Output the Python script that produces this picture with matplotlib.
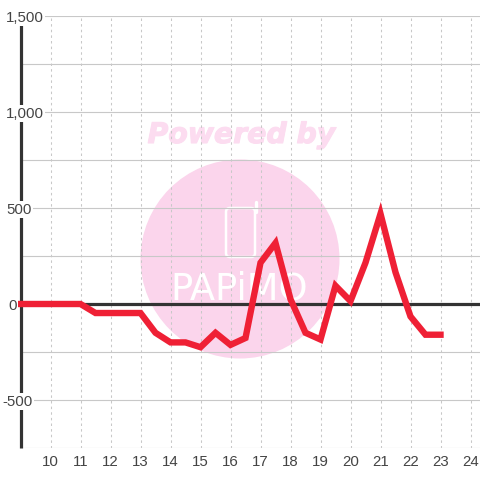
import matplotlib.pyplot as plt
import matplotlib.patheffects as pe
from matplotlib.patches import Circle, FancyBboxPatch

hours = [9, 9.5, 10, 10.5, 11, 11.5, 12, 12.5, 13, 13.5, 14, 14.5, 15, 15.5, 16, 16.5,
         17, 17.5, 18, 18.5, 19, 19.5, 20, 20.5, 21, 21.5, 22, 22.5, 23]
values = [0, 0, 0, 0, 0, -47, -47, -47, -47, -150, -200, -200, -225, -150, -213, -177,
          215, 318, 25, -150, -185, 95, 15, 215, 470, 165, -65, -160, -160]
x_ticks = list(range(10, 25))
y_major = [-500, 0, 500, 1000, 1500]
y_labels = ["-500", "0", "500", "1,000", "1,500"]
y_minor = [-750, -250, 250, 750, 1250]

W = 480.0
fig = plt.figure(figsize=(4.8, 4.8), dpi=100)

# watermark sits behind the chart, in pixel coords
bg = fig.add_axes([0, 0, 1, 1], zorder=0)
bg.set_xlim(0, W)
bg.set_ylim(W, 0)
bg.axis("off")
bg.add_patch(Circle((240, 259), 99.5, color="#fbd5ec", lw=0))
bg.add_patch(FancyBboxPatch((226, 208), 29, 49, boxstyle="round,pad=0,rounding_size=4",
                            fc="none", ec="white", lw=1.8))
bg.plot([255.5, 255.5], [202, 212], color="white", lw=2.4, solid_capstyle="round")
bg.text(239, 289, "PAPiMO", color="white", family="Liberation Sans Narrow",
        fontsize=26.5, ha="center", va="center")
bg.text(241.5, 135, "Powered by", color="#fcdcf0", family="DejaVu Sans", weight="bold",
        style="italic", fontsize=20.4, ha="center", va="center",
        path_effects=[pe.withStroke(linewidth=0.8, foreground="#fcdcf0")])

ax = fig.add_axes([20.5 / W, 32 / W, 459.5 / W, 432 / W], zorder=1)
ax.patch.set_alpha(0)
ax.set_xlim(9, 9 + 459.5 / 30)
ax.set_ylim(-750, 1500)

for s in ["top", "right", "bottom"]:
    ax.spines[s].set_visible(False)
ax.spines["left"].set_linewidth(2.3)
ax.spines["left"].set_color("#333333")
ax.spines["left"].set_capstyle("butt")
ax.spines["left"].set_zorder(3)

ax.set_xticks(x_ticks)
ax.set_yticks(y_major)
ax.set_yticks(y_minor, minor=True)
ax.set_yticklabels([])
ax.tick_params(axis="both", which="both", length=0)
ax.tick_params(axis="x", pad=5, labelsize=10.8, labelcolor="#444444")
for lab in ax.get_xticklabels():
    lab.set_family("Liberation Sans")

ax.set_axisbelow(True)
ax.grid(axis="y", which="both", color="#c8c8c8", lw=0.8, linestyle="-")
ax.grid(axis="x", color="#c8c8c8", lw=0.75, linestyle=(0, (2.4, 3)))

ax.axhline(0, color="#333333", lw=2.3, zorder=2)
ax.plot(hours, values, color="#ef2035", lw=4.6, solid_joinstyle="miter",
        solid_capstyle="projecting", clip_on=False, zorder=4)

# y labels have a white box that cuts the axis and gridlines
offsets = {"-500": 2, "0": 8, "500": 6, "1,000": 6, "1,500": 6}
for v, lab in zip(y_major, y_labels):
    ax.annotate(lab, (0, v), xycoords=("axes fraction", "data"),
                xytext=(offsets[lab] - 20.5, 0), textcoords="offset pixels",
                ha="left", va="center_baseline", fontsize=10.8, color="#444444",
                family="Liberation Sans", zorder=5, annotation_clip=False,
                bbox=dict(fc="white", ec="none", pad=1))

fig.savefig("out.png", dpi=100)
